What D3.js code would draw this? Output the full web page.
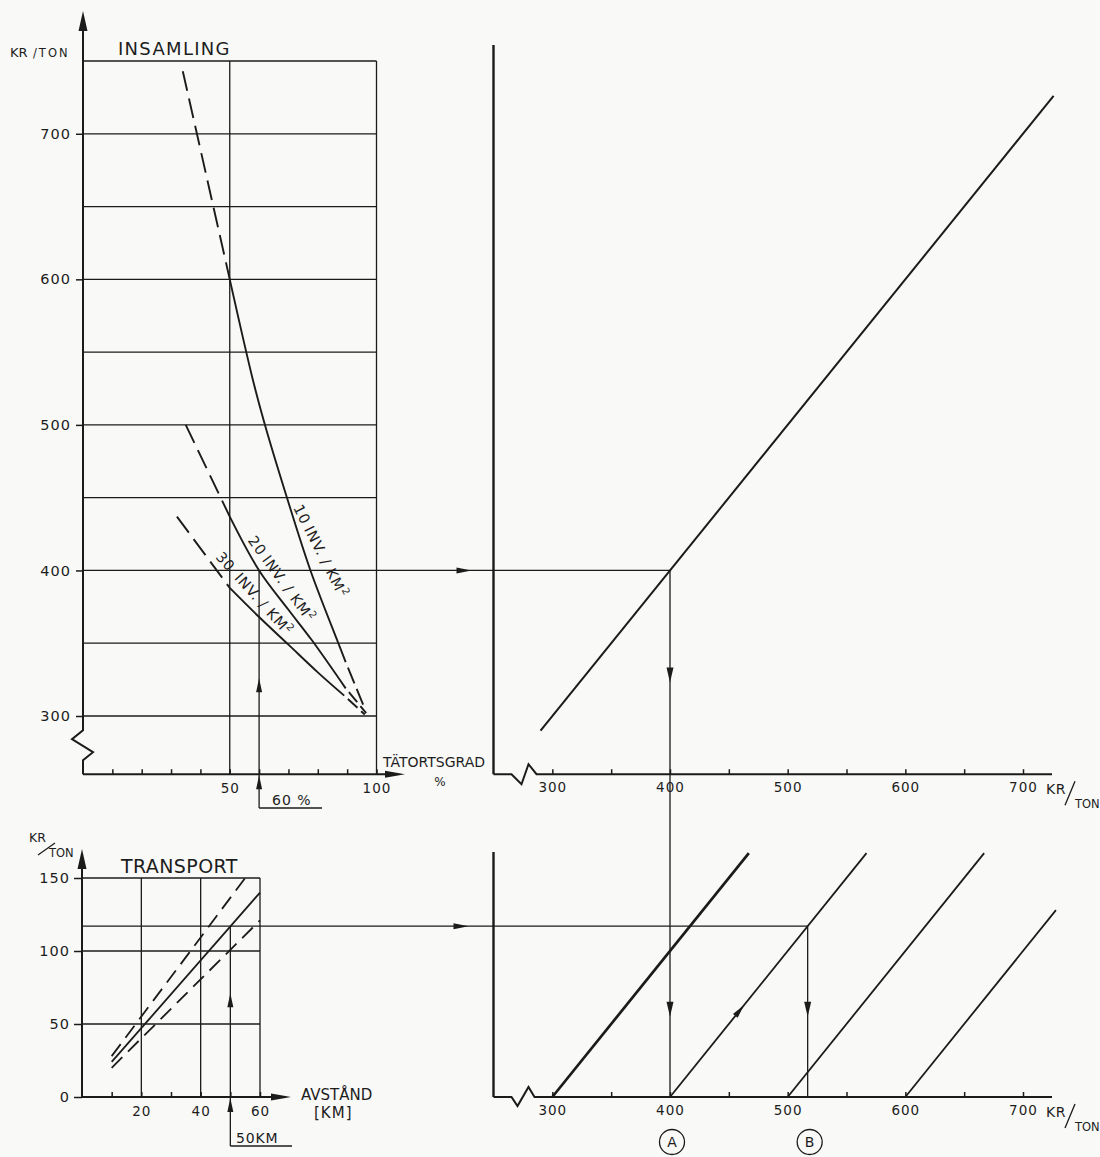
<!DOCTYPE html>
<html>
<head>
<meta charset="utf-8">
<script src="https://cdn.jsdelivr.net/npm/d3@7"></script>
<style>
  body { margin: 0; background: #f9f9f7; }
  svg { display: block; }
  text { font-family: "DejaVu Sans", sans-serif; fill: #1d1d1d; }
</style>
</head>
<body>
<svg id="chart" width="1100" height="1157"></svg>
<script>
// ---- INSAMLING (collection cost, kr/ton vs tätortsgrad %) ----
var insamlingGrid = [300, 350, 400, 450, 500, 550, 600, 650, 700, 750];
var insamlingLabels = [300, 400, 500, 600, 700];
var tatortTicks = [10, 20, 30, 40, 50, 60, 70, 80, 90, 100];
var tatortLabels = [50, 100];
var tatortGrid = [50, 100];
// 10 inv/km2
var inv10Top = [[34, 743], [50, 600]];
var inv10 = [[50, 600], [58, 530], [62, 500], [69.5, 450], [77.5, 400], [87, 350], [89.5, 337]];
var inv10End = [[89.5, 337], [96, 305]];
// 20 inv/km2
var inv20Top = [[35, 500], [50, 437]];
var inv20 = [[50, 437], [60, 400], [70, 373], [78, 352], [89.5, 319]];
var inv20End = [[89.5, 319], [96.5, 302]];
// 30 inv/km2
var inv30Top = [[32, 437], [50, 388]];
var inv30 = [[50, 388], [60, 368], [70, 349], [80, 330], [89, 314]];
var inv30End = [[89, 314], [96, 301]];

// ---- summa (top right) ----
var sumTicks = [300, 350, 400, 450, 500, 550, 600, 650, 700];
var sumLabels = [300, 400, 500, 600, 700];
var insamlingLine = [[290, 290], [726, 726]];

// ---- TRANSPORT (kr/ton vs avstånd km) ----
var transportGrid = [50, 100, 150];
var transportLabels = [0, 50, 100, 150];
var kmTicks = [10, 20, 30, 40, 50, 60];
var kmLabels = [20, 40, 60];
var kmGrid = [20, 40, 60];
var transportHigh = [[10, 28], [55, 150]];
var transportMid = [[10, 24], [60, 140]];
var transportLow = [[10, 20], [60, 121]];

// ---- total (bottom right): insamling + transport ----
var totalBases = [300, 400, 500, 600];
var totalReach = [167, 167, 167, 128];

// reading example
var readTatort = 60, readInsamling = 400;
var readKm = 50, readTransport = 117, readTotal = 517;

var svg = d3.select("#chart");
var ink = "#1b1b1b";

var yTop = d3.scaleLinear().domain([300, 750]).range([716, 61]);
var xTat = d3.scaleLinear().domain([0, 100]).range([83, 376.5]);
var xSum = d3.scaleLinear().domain([400, 700]).range([670, 1023]);
var yTr = d3.scaleLinear().domain([0, 150]).range([1097, 878]);
var xKm = d3.scaleLinear().domain([0, 60]).range([82, 260]);

var baseTop = yTop(260);
var baseBot = yTr(0);
var axisX = xSum(250);

function arrowHead(x, y, angle, len, half) {
  svg.append("path")
    .attr("d", "M0,0L" + (-len) + "," + (-half) + "L" + (-len) + "," + half + "Z")
    .attr("transform", "translate(" + x + "," + y + ") rotate(" + angle + ")")
    .attr("fill", ink);
}
function seg(x1, y1, x2, y2, w) {
  svg.append("line")
    .attr("x1", x1).attr("y1", y1).attr("x2", x2).attr("y2", y2)
    .attr("stroke", ink).attr("stroke-width", w || 1.3);
}
function styleAxis(g, size) {
  g.select(".domain").remove();
  g.attr("color", ink).attr("font-size", size).attr("font-family", "DejaVu Sans");
  g.selectAll("line").attr("stroke-width", 1.5);
  g.selectAll("text").attr("letter-spacing", 1);
}

// ================= INSAMLING panel =================
svg.selectAll(".gridT").data(insamlingGrid).join("line")
  .attr("class", "gridT")
  .attr("x1", xTat(0)).attr("x2", xTat(100))
  .attr("y1", d => yTop(d)).attr("y2", d => yTop(d))
  .attr("stroke", ink).attr("stroke-width", 1.3);

svg.selectAll(".gridTv").data(tatortGrid).join("line")
  .attr("class", "gridTv")
  .attr("x1", d => xTat(d)).attr("x2", d => xTat(d))
  .attr("y1", yTop(750)).attr("y2", baseTop)
  .attr("stroke", ink).attr("stroke-width", 1.3);

// y axis with break
svg.append("path")
  .attr("d", d3.line()([[xTat(0), baseTop], [xTat(0), baseTop - 14], [xTat(0) + 10, baseTop - 22],
    [xTat(0) - 11, baseTop - 35], [xTat(0), baseTop - 44], [xTat(0), 20]]))
  .attr("fill", "none").attr("stroke", ink).attr("stroke-width", 2);
arrowHead(xTat(0), 11, -90, 20, 4.5);
// x axis
seg(xTat(0), baseTop, 392, baseTop, 2);
arrowHead(405, baseTop, 0, 20, 3.5);

svg.append("g").attr("transform", "translate(" + xTat(0) + ",0)")
  .call(d3.axisLeft(yTop).tickValues(insamlingLabels).tickSize(7).tickPadding(5).tickFormat(d3.format("d")))
  .call(g => styleAxis(g, 14.5));
svg.append("g").attr("transform", "translate(0," + baseTop + ")")
  .call(d3.axisBottom(xTat).tickValues(tatortTicks).tickSize(-5).tickPadding(9)
    .tickFormat(d => tatortLabels.indexOf(d) >= 0 ? d : ""))
  .call(g => styleAxis(g, 13.5));

var lineTop = d3.line().x(d => xTat(d[0])).y(d => yTop(d[1])).curve(d3.curveCatmullRom);
[[inv10Top, "20,8", 0], [inv10, null, 0], [inv10End, "17,6", 17],
 [inv20Top, "20,8", 0], [inv20, null, 0], [inv20End, "13,5", 13],
 [inv30Top, "20,8", 0], [inv30, null, 0], [inv30End, "13,5", 13]].forEach(function (c) {
  svg.append("path").datum(c[0]).attr("d", lineTop)
    .attr("fill", "none").attr("stroke", ink).attr("stroke-width", 1.9)
    .attr("stroke-dasharray", c[1])
    .attr("stroke-dashoffset", c[2]);
});

// curve labels
function curveLabel(pt, angle, lead, gap) {
  var g = svg.append("g")
    .attr("transform", "translate(" + xTat(pt[0]) + "," + yTop(pt[1]) + ") rotate(" + angle + ")");
  var t = g.append("text").attr("x", 2).attr("y", -4).attr("font-size", 14.5).attr("letter-spacing", 0.8);
  t.append("tspan").text(lead);
  t.append("tspan").attr("dx", gap).text("INV. / KM");
  t.append("tspan").attr("dy", -6).attr("font-size", 10).text("2");
}
curveLabel([70, 443], 63, "10", 4);
curveLabel([54.5, 420], 54, "20", 4);
curveLabel([43.5, 408], 48, "30", 8);

svg.append("text").attr("x", 10).attr("y", 57).attr("font-size", 13).text("KR");
svg.append("text").attr("x", 33).attr("y", 57).attr("font-size", 11.5).attr("letter-spacing", 2).text("/TON");
svg.append("text").attr("x", 118).attr("y", 55).attr("font-size", 18).attr("letter-spacing", 1.3).text("INSAMLING");
svg.append("text").attr("x", 383).attr("y", 767).attr("font-size", 14).text("TÄTORTSGRAD");
svg.append("text").attr("x", 440).attr("y", 786).attr("font-size", 12).attr("text-anchor", "middle").text("%");

// 60 % reading
seg(xTat(readTatort), yTop(readInsamling), xTat(readTatort), 808, 1.3);
seg(xTat(readTatort), 808, 322, 808, 1.3);
arrowHead(xTat(readTatort), yTop(326), -90, 14, 3);
arrowHead(xTat(readTatort), baseTop + 1, -90, 14, 3);
svg.append("text").attr("x", 272).attr("y", 805).attr("font-size", 14).attr("letter-spacing", 1).text("60 %");

// 400 reading line into summa panel
seg(xTat(100), yTop(readInsamling), xSum(readInsamling), yTop(readInsamling), 1.3);
arrowHead(axisX - 22, yTop(readInsamling), 0, 15, 3);

// ================= summa panel (top right) =================
seg(axisX, 45, axisX, baseTop, 2.4);
svg.append("path")
  .attr("d", d3.line()([[axisX, baseTop], [axisX + 18, baseTop], [axisX + 28, baseTop + 10],
    [axisX + 35, baseTop - 10], [axisX + 43, baseTop], [1052, baseTop]]))
  .attr("fill", "none").attr("stroke", ink).attr("stroke-width", 2);
svg.append("g").attr("transform", "translate(0," + baseTop + ")")
  .call(d3.axisBottom(xSum).tickValues(sumTicks).tickSize(-5).tickPadding(8)
    .tickFormat(d => sumLabels.indexOf(d) >= 0 ? d : ""))
  .call(g => styleAxis(g, 13.5));

svg.append("path").datum(insamlingLine)
  .attr("d", d3.line().x(d => xSum(d[0])).y(d => yTop(d[1])))
  .attr("fill", "none").attr("stroke", ink).attr("stroke-width", 2);

function unitLabel(yb) {
  svg.append("text").attr("x", 1046).attr("y", yb + 20).attr("font-size", 14).attr("letter-spacing", 0.5).text("KR");
  seg(1065, yb + 31, 1075, yb + 7, 1.3);
  svg.append("text").attr("x", 1075).attr("y", yb + 34).attr("font-size", 11.5).text("TON");
}
unitLabel(baseTop);

// A vertical
seg(xSum(readInsamling), yTop(readInsamling), xSum(readInsamling), baseBot, 1.3);
arrowHead(xSum(readInsamling), yTop(323), 90, 15, 3.5);
arrowHead(xSum(readInsamling), yTr(55), 90, 15, 3.5);

// ================= TRANSPORT panel =================
svg.selectAll(".gridB").data(transportGrid).join("line")
  .attr("class", "gridB")
  .attr("x1", xKm(0)).attr("x2", xKm(60))
  .attr("y1", d => yTr(d)).attr("y2", d => yTr(d))
  .attr("stroke", ink).attr("stroke-width", 1.3);
svg.selectAll(".gridBv").data(kmGrid).join("line")
  .attr("class", "gridBv")
  .attr("x1", d => xKm(d)).attr("x2", d => xKm(d))
  .attr("y1", yTr(150)).attr("y2", baseBot)
  .attr("stroke", ink).attr("stroke-width", 1.3);

seg(xKm(0), baseBot, xKm(0), 866, 2);
arrowHead(xKm(0), 849, -90, 20, 4.5);
seg(xKm(0), baseBot, 276, baseBot, 2);
arrowHead(291, baseBot, 0, 20, 3.5);

svg.append("g").attr("transform", "translate(" + xKm(0) + ",0)")
  .call(d3.axisLeft(yTr).tickValues(transportLabels).tickSize(8).tickPadding(4))
  .call(g => styleAxis(g, 14.5));
svg.append("g").attr("transform", "translate(0," + baseBot + ")")
  .call(d3.axisBottom(xKm).tickValues(kmTicks).tickSize(-5).tickPadding(9)
    .tickFormat(d => kmLabels.indexOf(d) >= 0 ? d : ""))
  .call(g => styleAxis(g, 13.5));

var lineKm = d3.line().x(d => xKm(d[0])).y(d => yTr(d[1]));
[[transportHigh, true], [transportMid, false], [transportLow, true]].forEach(function (c) {
  svg.append("path").datum(c[0]).attr("d", lineKm)
    .attr("fill", "none").attr("stroke", ink).attr("stroke-width", 1.8)
    .attr("stroke-dasharray", c[1] ? "15,8" : null);
});

svg.append("text").attr("x", 29).attr("y", 842).attr("font-size", 12.5).text("KR");
seg(38, 855, 55, 843, 1.2);
svg.append("text").attr("x", 49).attr("y", 857).attr("font-size", 11.5).text("TON");
svg.append("text").attr("x", 121).attr("y", 873).attr("font-size", 19).attr("letter-spacing", 0.4).text("TRANSPORT");
svg.append("text").attr("x", 301).attr("y", 1100).attr("font-size", 15).text("AVSTÅND");
svg.append("text").attr("x", 314).attr("y", 1118).attr("font-size", 15).attr("letter-spacing", 1).text("[KM]");

// 50 km reading
seg(xKm(readKm), yTr(readTransport), xKm(readKm), 1146, 1.3);
seg(xKm(readKm), 1146, 292, 1146, 1.3);
arrowHead(xKm(readKm), yTr(71), -90, 14, 3);
arrowHead(xKm(readKm), baseBot + 1, -90, 14, 3);
svg.append("text").attr("x", 236).attr("y", 1143).attr("font-size", 14).attr("letter-spacing", 0.8).text("50KM");

// 117 reading line into total panel
seg(xKm(0), yTr(readTransport), xSum(readTotal), yTr(readTransport), 1.3);
arrowHead(axisX - 25, yTr(readTransport), 0, 15, 3);

// ================= total panel (bottom right) =================
seg(axisX, 852, axisX, baseBot, 2.4);
svg.append("path")
  .attr("d", d3.line()([[axisX, baseBot], [axisX + 18, baseBot], [axisX + 24, baseBot + 9],
    [axisX + 35, baseBot - 10], [axisX + 41, baseBot], [1052, baseBot]]))
  .attr("fill", "none").attr("stroke", ink).attr("stroke-width", 2);
svg.append("g").attr("transform", "translate(0," + baseBot + ")")
  .call(d3.axisBottom(xSum).tickValues(sumTicks).tickSize(-5).tickPadding(8)
    .tickFormat(d => sumLabels.indexOf(d) >= 0 ? d : ""))
  .call(g => styleAxis(g, 13.5));
unitLabel(baseBot);

var lineSum = d3.line().x(d => xSum(d[0])).y(d => yTr(d[1]));
totalBases.forEach(function (b, i) {
  svg.append("path").datum([[b, 0], [b + totalReach[i], totalReach[i]]])
    .attr("d", lineSum).attr("fill", "none").attr("stroke", ink)
    .attr("stroke-width", i === 0 ? 2.7 : 1.8);
});
// arrow along 400 line
arrowHead(xSum(400 + 63), yTr(63), -51, 14, 3);

// B vertical
seg(xSum(readTotal), yTr(readTransport), xSum(readTotal), baseBot, 1.3);
arrowHead(xSum(readTotal), yTr(55), 90, 15, 3.5);

[["A", 400], ["B", readTotal]].forEach(function (m) {
  svg.append("circle").attr("cx", xSum(m[1]) + 2).attr("cy", 1142).attr("r", 12.5)
    .attr("fill", "none").attr("stroke", ink).attr("stroke-width", 1.3);
  svg.append("text").attr("x", xSum(m[1]) + 2).attr("y", 1147).attr("font-size", 14)
    .attr("text-anchor", "middle").text(m[0]);
});
</script>
</body>
</html>
